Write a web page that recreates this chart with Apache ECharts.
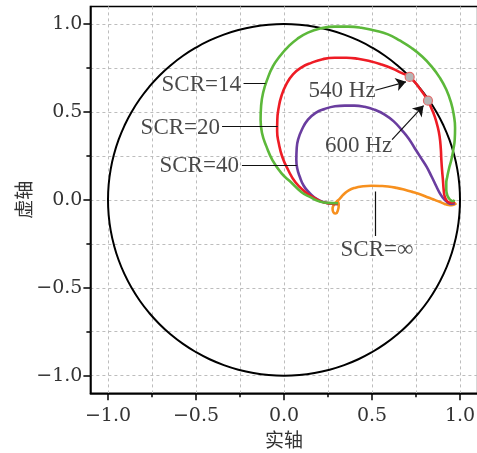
<!DOCTYPE html>
<html><head><meta charset="utf-8">
<script src="https://cdn.jsdelivr.net/npm/echarts@6/dist/echarts.min.js"></script>
<style>html,body{margin:0;padding:0;background:#fff}#c{width:477px;height:453px}</style>
</head><body><div id="c"></div>
<script>
// ---- tick values ----
const majorTicks = [-1.0, -0.5, 0.0, 0.5, 1.0];
const gridTicks = [-1.0, -0.75, -0.5, -0.25, 0.0, 0.25, 0.5, 0.75, 1.0];

// ---- unit circle (every 5 degrees) ----
const unitCircle = [
  [1.0000,0.0000],[0.9962,0.0872],[0.9848,0.1736],[0.9659,0.2588],[0.9397,0.3420],[0.9063,0.4226],
  [0.8660,0.5000],[0.8192,0.5736],[0.7660,0.6428],[0.7071,0.7071],[0.6428,0.7660],[0.5736,0.8192],
  [0.5000,0.8660],[0.4226,0.9063],[0.3420,0.9397],[0.2588,0.9659],[0.1736,0.9848],[0.0872,0.9962],
  [0.0000,1.0000],[-0.0872,0.9962],[-0.1736,0.9848],[-0.2588,0.9659],[-0.3420,0.9397],[-0.4226,0.9063],
  [-0.5000,0.8660],[-0.5736,0.8192],[-0.6428,0.7660],[-0.7071,0.7071],[-0.7660,0.6428],[-0.8192,0.5736],
  [-0.8660,0.5000],[-0.9063,0.4226],[-0.9397,0.3420],[-0.9659,0.2588],[-0.9848,0.1736],[-0.9962,0.0872],
  [-1.0000,0.0000],[-0.9962,-0.0872],[-0.9848,-0.1736],[-0.9659,-0.2588],[-0.9397,-0.3420],[-0.9063,-0.4226],
  [-0.8660,-0.5000],[-0.8192,-0.5736],[-0.7660,-0.6428],[-0.7071,-0.7071],[-0.6428,-0.7660],[-0.5736,-0.8192],
  [-0.5000,-0.8660],[-0.4226,-0.9063],[-0.3420,-0.9397],[-0.2588,-0.9659],[-0.1736,-0.9848],[-0.0872,-0.9962],
  [0.0000,-1.0000],[0.0872,-0.9962],[0.1736,-0.9848],[0.2588,-0.9659],[0.3420,-0.9397],[0.4226,-0.9063],
  [0.5000,-0.8660],[0.5736,-0.8192],[0.6428,-0.7660],[0.7071,-0.7071],[0.7660,-0.6428],[0.8192,-0.5736],
  [0.8660,-0.5000],[0.9063,-0.4226],[0.9397,-0.3420],[0.9659,-0.2588],[0.9848,-0.1736],[0.9962,-0.0872],
  [1.0000,0.0000]
];

// ---- curves (real, imag) ----
const scr14 = [
  [0.307,-0.019],[0.25,-0.017],[0.203,-0.010],[0.15,0.015],[0.098,0.045],[0.04,0.10],[-0.015,0.152],
  [-0.065,0.225],[-0.100,0.304],[-0.125,0.38],[-0.133,0.456],[-0.130,0.535],[-0.119,0.608],[-0.095,0.685],
  [-0.0625,0.760],[-0.025,0.815],[0.023,0.870],[0.075,0.915],[0.136,0.951],[0.21,0.975],[0.288,0.985],
  [0.365,0.985],[0.439,0.979],[0.515,0.963],[0.591,0.941],[0.66,0.905],[0.723,0.865],[0.785,0.815],
  [0.837,0.760],[0.885,0.695],[0.922,0.627],[0.950,0.550],[0.966,0.475],[0.972,0.41],[0.970,0.342],
  [0.962,0.285],[0.951,0.228],[0.938,0.18],[0.928,0.133],[0.922,0.095],[0.922,0.057],[0.93,0.02],
  [0.945,0.0],[0.96,-0.008],[0.968,0.0]
];
const scr20 = [
  [0.307,-0.023],[0.26,-0.02],[0.212,-0.010],[0.165,0.015],[0.117,0.048],[0.065,0.10],[0.023,0.171],
  [-0.01,0.245],[-0.030,0.323],[-0.039,0.39],[-0.038,0.456],[-0.030,0.525],[-0.015,0.589],[0.012,0.655],
  [0.051,0.713],[0.10,0.753],[0.155,0.779],[0.22,0.800],[0.288,0.808],[0.355,0.808],[0.420,0.802],
  [0.49,0.788],[0.553,0.770],[0.612,0.748],[0.667,0.722],[0.714,0.699],[0.770,0.635],[0.818,0.564],
  [0.84,0.515],[0.856,0.475],[0.872,0.42],[0.884,0.361],[0.891,0.29],[0.894,0.228],[0.898,0.17],
  [0.903,0.114],[0.907,0.06],[0.913,0.019],[0.925,-0.005],[0.941,-0.015],[0.958,-0.015],[0.970,-0.010]
];
const scr40 = [
  [0.307,-0.023],[0.27,-0.022],[0.231,-0.015],[0.185,0.005],[0.146,0.038],[0.112,0.08],[0.089,0.133],
  [0.075,0.18],[0.070,0.228],[0.072,0.29],[0.080,0.342],[0.102,0.40],[0.136,0.456],[0.18,0.495],
  [0.231,0.517],[0.29,0.532],[0.345,0.536],[0.40,0.536],[0.458,0.529],[0.515,0.512],[0.572,0.485],
  [0.625,0.445],[0.667,0.399],[0.707,0.35],[0.742,0.295],[0.777,0.24],[0.809,0.190],[0.84,0.13],
  [0.866,0.076],[0.89,0.03],[0.913,0.0],[0.935,-0.018],[0.951,-0.023],[0.970,-0.019]
];
const scrInf = [
  [0.304,-0.004],[0.311,-0.030],[0.306,-0.060],[0.294,-0.078],[0.281,-0.071],[0.276,-0.050],[0.283,-0.029],
  [0.298,-0.011],[0.316,0.006],[0.338,0.030],[0.368,0.054],[0.402,0.068],[0.45,0.077],[0.496,0.080],
  [0.545,0.079],[0.591,0.076],[0.64,0.068],[0.686,0.057],[0.735,0.043],[0.780,0.029],[0.82,0.013],
  [0.856,0.0],[0.888,-0.013],[0.913,-0.023],[0.935,-0.029],[0.951,-0.030],[0.967,-0.027],[0.979,-0.019]
];

// ---- frequency markers on SCR=20 curve ----
const freqMarkers = [[0.714,0.699],[0.818,0.564]];

// ---- annotations ----
const annoTexts = ['SCR=14','SCR=20','SCR=40','SCR=\u221E','540 Hz','600 Hz'];
const annoAnchors = [[-0.470,0.655],[-0.589,0.408],[-0.482,0.194],[0.528,-0.285],[0.330,0.621],[0.424,0.304]];
const leaderLines = [
  [[-0.230,0.665],[-0.105,0.665]],
  [[-0.352,0.418],[-0.036,0.418]],
  [[-0.239,0.194],[0.072,0.194]],
  [[0.520,0.047],[0.520,-0.205]]
];
const arrowLines = [
  [[0.519,0.623],[0.693,0.671]],
  [[0.614,0.342],[0.793,0.536]]
];

const fmt = v => v.toFixed(1).replace('-', '\u2212');
const tickFont = {fontFamily:'DejaVu Serif', fontSize:19, color:'#333'};
const nameFont = {fontFamily:'Noto Sans CJK SC', fontSize:19, color:'#333'};
const gridRect = {left:90.4, top:6.4, width:387.2, height:386.9};

const chart = echarts.init(document.getElementById('c'), null, {renderer:'canvas'});
chart.setOption({
  animation:false,
  backgroundColor:'#fff',
  grid:[
    Object.assign({show:true, borderColor:'#000', borderWidth:1.5, outerBoundsMode:'none', containLabel:false}, gridRect),
    Object.assign({show:false, outerBoundsMode:'none', containLabel:false}, gridRect)
  ],
  xAxis:[{
    type:'value', gridIndex:0, min:-1.1, max:1.1,
    axisLine:{show:true, onZero:false, lineStyle:{color:'#000', width:1.5}},
    axisTick:{show:true, customValues:gridTicks, length:4, lineStyle:{color:'#000', width:1.5}},
    axisLabel:Object.assign({customValues:majorTicks, formatter:fmt, margin:13}, tickFont),
    splitLine:{show:true, lineStyle:{type:[3,3], color:'#bdbdbd', width:1}},
    name:'实轴', nameLocation:'middle', nameGap:31, nameTextStyle:nameFont
  },{
    type:'value', gridIndex:1, min:-1.1, max:1.1,
    axisLine:{show:false, onZero:false},
    axisTick:{show:true, customValues:majorTicks, length:7, lineStyle:{color:'#000', width:1.5}},
    axisLabel:{show:false}, splitLine:{show:false}
  }],
  yAxis:[{
    type:'value', gridIndex:0, min:-1.1, max:1.1,
    axisLine:{show:true, onZero:false, lineStyle:{color:'#000', width:1.5}},
    axisTick:{show:true, customValues:gridTicks, length:4, lineStyle:{color:'#000', width:1.5}},
    axisLabel:Object.assign({customValues:majorTicks, formatter:fmt, margin:8}, tickFont),
    splitLine:{show:true, lineStyle:{type:[3,3], color:'#bdbdbd', width:1}},
    name:'虚轴', nameLocation:'middle', nameGap:57, nameMoveOverlap:false, nameTextStyle:nameFont
  },{
    type:'value', gridIndex:1, min:-1.1, max:1.1,
    axisLine:{show:false, onZero:false},
    axisTick:{show:true, customValues:majorTicks, length:7, lineStyle:{color:'#000', width:1.5}},
    axisLabel:{show:false}, splitLine:{show:false}
  }],
  series:[
    {type:'line', data:unitCircle, smooth:true, showSymbol:false, lineStyle:{color:'#000', width:2}, z:2},
    {type:'line', data:scrInf, smooth:true, showSymbol:false, lineStyle:{color:'#f7901e', width:2.6}, z:3},
    {type:'line', data:scr40, smooth:true, showSymbol:false, lineStyle:{color:'#6a3d9f', width:2.6}, z:3},
    {type:'line', data:scr20, smooth:true, showSymbol:false, lineStyle:{color:'#ee1c25', width:2.6}, z:3},
    {type:'line', data:scr14, smooth:true, showSymbol:false, lineStyle:{color:'#5cb83a', width:2.6}, z:3},
    {type:'lines', coordinateSystem:'cartesian2d', polyline:false, z:4,
      lineStyle:{color:'#111', width:1.2, opacity:1},
      data:leaderLines.map(c => ({coords:c}))},
    {type:'lines', coordinateSystem:'cartesian2d', polyline:false, z:4,
      symbol:['none','arrow'], symbolSize:10,
      lineStyle:{color:'#111', width:1.2, opacity:1},
      data:arrowLines.map(c => ({coords:c}))},
    {type:'scatter', data:freqMarkers, symbolSize:9, z:6,
      itemStyle:{color:'#b5b5b5', borderColor:'#e26a6a', borderWidth:1.2, opacity:1}},
    {type:'scatter', z:7, symbolSize:1,
      itemStyle:{color:'rgba(0,0,0,0)'},
      label:{show:true, position:'inside', formatter:'{b}', fontFamily:'Liberation Serif', fontSize:23, color:'#1a1a1a'},
      data:annoTexts.map((t,i) => ({name:t, value:annoAnchors[i]}))}
  ]
});
</script></body></html>
